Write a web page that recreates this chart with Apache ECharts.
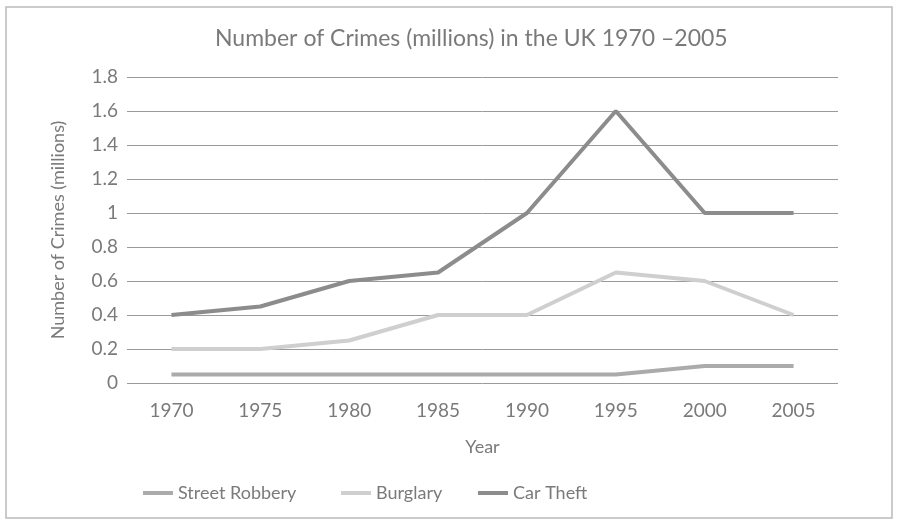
<!DOCTYPE html>
<html>
<head>
<meta charset="utf-8">
<script src="https://cdn.jsdelivr.net/npm/echarts@6/dist/echarts.min.js"></script>
<style>
  html, body { margin: 0; padding: 0; background: #fff; }
  #main { width: 897px; height: 520px; }
</style>
</head>
<body>
<div id="main"></div>
<script>
// data
var years = ['1970', '1975', '1980', '1985', '1990', '1995', '2000', '2005'];
var streetRobbery = [0.05, 0.05, 0.05, 0.05, 0.05, 0.05, 0.1, 0.1];
var burglary = [0.2, 0.2, 0.25, 0.4, 0.4, 0.65, 0.6, 0.4];
var carTheft = [0.4, 0.45, 0.6, 0.65, 1.0, 1.6, 1.0, 1.0];
var seriesNames = ['Street Robbery', 'Burglary', 'Car Theft'];

var font = 'Lato';
var textColor = '#7a7a7a';

var myChart = echarts.init(document.getElementById('main'));

function line(name, data, color) {
  return {
    name: name,
    type: 'line',
    data: data,
    symbol: 'none',
    lineStyle: { color: color, width: 4 },
    itemStyle: { color: color }
  };
}

// one legend per entry so each can sit where it does in the picture
var legendLefts = [138, 336, 473];
var legends = seriesNames.map(function (n, i) {
  return {
    data: [n],
    left: legendLefts[i],
    top: 479,
    itemWidth: 30,
    itemHeight: 4,
    icon: 'rect',
    textStyle: { fontFamily: font, fontSize: 18, color: textColor }
  };
});

option = {
  animation: false,
  textStyle: { fontFamily: font },
  graphic: [{
    type: 'rect',
    shape: { x: 6, y: 7, width: 886, height: 511 },
    style: { fill: 'none', stroke: '#bbb', lineWidth: 1.5 }
  }],
  title: {
    text: 'Number of Crimes (millions) in the UK 1970 \u20132005',
    left: 210,
    top: 22,
    textStyle: { fontFamily: font, fontSize: 23, fontWeight: 'normal', color: textColor }
  },
  legend: legends,
  grid: { left: 127, right: 59, top: 77, bottom: 137 },
  xAxis: {
    type: 'category',
    data: years,
    name: 'Year',
    nameLocation: 'middle',
    nameGap: 55,
    nameTextStyle: { fontFamily: font, fontSize: 18, color: textColor },
    axisLine: { show: false },
    axisTick: { show: false },
    axisLabel: { fontFamily: font, fontSize: 19, color: textColor, margin: 18 }
  },
  yAxis: {
    type: 'value',
    min: 0,
    max: 1.8,
    interval: 0.2,
    name: 'Number of Crimes (millions)',
    nameLocation: 'middle',
    nameGap: 60,
    nameTextStyle: { fontFamily: font, fontSize: 18, color: textColor },
    axisLine: { show: false },
    axisTick: { show: false },
    axisLabel: {
      fontFamily: font, fontSize: 19, color: textColor, margin: 9,
      formatter: function (v) { return String(Math.round(v * 10) / 10); }
    },
    splitLine: { lineStyle: { color: '#9a9a9a', width: 1 } }
  },
  series: [
    line(seriesNames[0], streetRobbery, '#ababab'),
    line(seriesNames[1], burglary, '#cfcfcf'),
    line(seriesNames[2], carTheft, '#8c8c8c')
  ]
};

myChart.setOption(option);
</script>
</body>
</html>
